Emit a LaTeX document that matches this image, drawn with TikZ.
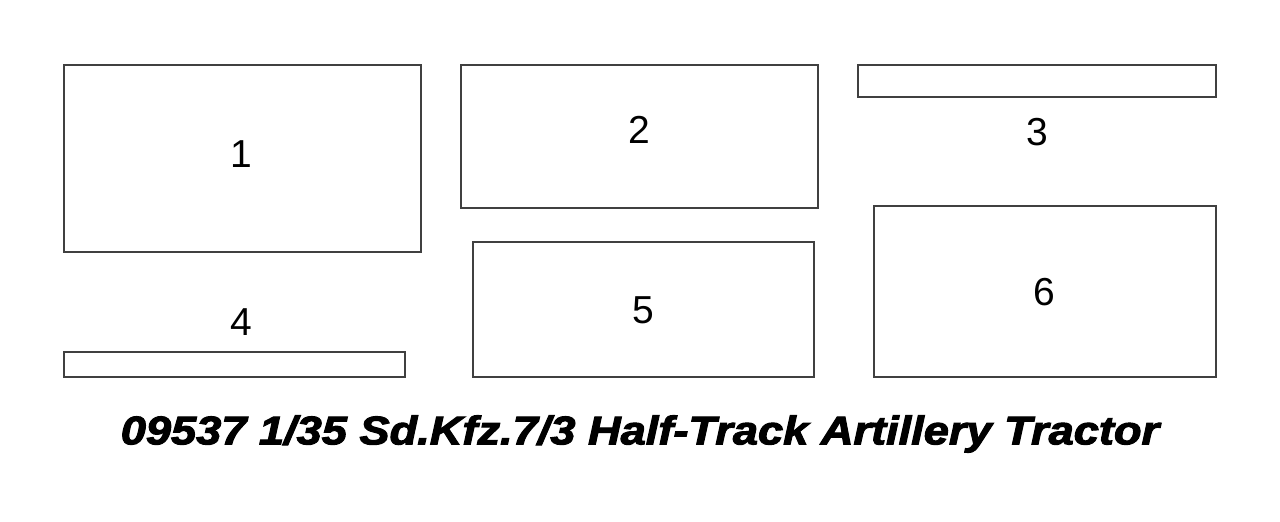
\documentclass[tikz,border=0pt]{standalone}
\usepackage{fontspec}
\setmainfont{Liberation Sans}
\newfontfamily\ttlfont{Liberation Sans}[BoldItalicFeatures={FakeBold=2.5}]
\begin{document}
\begin{tikzpicture}[x=1pt,y=-1pt,
  part/.style={draw=black!75,line width=1.4pt},
  num/.style={font=\fontsize{39}{41}\selectfont,text=black,inner sep=0pt},
  ttl/.style={font=\ttlfont\fontsize{40}{44}\selectfont\bfseries\itshape,text=black,inner sep=0pt,xscale=1.13}]
\useasboundingbox (0,0) rectangle (1280,522);
\fill[white] (0,0) rectangle (1280,522);
\draw[part] (64,65) rectangle (421,252);
\draw[part] (461,65) rectangle (818,208);
\draw[part] (858,65) rectangle (1216,97);
\draw[part] (64,352) rectangle (405,377);
\draw[part] (473,242) rectangle (814,377);
\draw[part] (874,206) rectangle (1216,377);
\node[num] (n1) at (241,154) {1};
\node[num] (n2) at (639,130) {2};
\node[num] (n3) at (1037,132) {3};
\node[num] (n4) at (241,322) {4};
\node[num] (n5) at (643,310) {5};
\node[num] (n6) at (1044,292) {6};
\node[ttl] (title) at (640,434) {09537 1/35 Sd.Kfz.7/3 Half-Track Artillery Tractor};
\end{tikzpicture}
\end{document}
